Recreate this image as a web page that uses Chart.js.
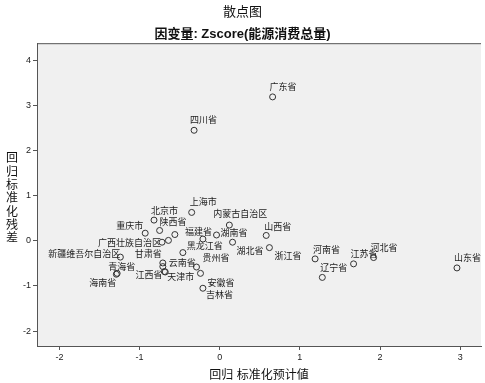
<!DOCTYPE html>
<html>
<head>
<meta charset="utf-8">
<script src="https://cdn.jsdelivr.net/npm/chart.js@4.4.0/dist/chart.umd.min.js"></script>
<style>
  body { margin: 0; background: #fff; }
  #wrap { width: 485px; height: 383px; }
</style>
</head>
<body>
<div id="wrap"><canvas id="scatterChart"></canvas></div>
<script>
const provinces = [
  "广东省", "四川省", "上海市", "北京市", "陕西省", "重庆市", "宁夏回族自治区", "西藏自治区",
  "广西壮族自治区", "福建省", "湖南省", "内蒙古自治区", "湖北省", "山西省", "浙江省", "河北省",
  "河南省", "辽宁省", "江苏省", "山东省", "黑龙江省", "新疆维吾尔自治区", "青海省", "海南省",
  "甘肃省", "云南省", "江西省", "天津市", "贵州省", "安徽省", "吉林省"
];
const predicted = [
  0.66, -0.32, -0.35, -0.82, -0.75, -0.93, -0.56, -0.64,
  -0.72, -0.21, -0.04, 0.12, 0.16, 0.58, 0.62, 1.92,
  1.19, 1.28, 1.67, 2.96, -0.46, -1.24, -1.28, -1.29,
  -0.71, -0.71, -0.69, -0.68, -0.29, -0.24, -0.21
];
const residuals = [
  3.19, 2.45, 0.63, 0.46, 0.23, 0.17, 0.14, 0.01,
  -0.03, 0.04, 0.13, 0.35, -0.03, 0.12, -0.15, -0.37,
  -0.40, -0.81, -0.51, -0.60, -0.26, -0.36, -0.72, -0.74,
  -0.49, -0.57, -0.68, -0.69, -0.58, -0.72, -1.05
];
const xTicks = [-2, -1, 0, 1, 2, 3];
const yTicks = [-2, -1, 0, 1, 2, 3, 4];

const chartTitle = "散点图";
const chartSubtitle = "因变量: Zscore(能源消费总量)";
const xTitle = "回归 标准化预计値";
const yTitle = "回归标准化残差";

// where each point label sits relative to its marker (null = label hidden by overlap)
const labelNudge = [
  [-3, -9], [-4, -10], [-2, -10], [-3, -9], [0, -8], [-29, -7], null, null,
  [-64, 1], [-18, -7], [4, -1], [-16, -11], [4, 9], [-2, -8], [5, 9], [-3, -9],
  [-2, -8], [-2, -9], [-3, -9], [-3, -9], [4, -6], [-72, -3], [-9, -6], [-27, 9],
  [-28, -8], [6, -3], [-29, 4], [2, 6], [6, -9], [7, 10], [3, 7]
];

const cjk = '"Liberation Sans", "Noto Sans CJK SC", sans-serif';

const plotBackground = {
  id: 'plotBackground',
  beforeDraw(chart) {
    const { ctx, chartArea: a } = chart;
    ctx.save();
    ctx.fillStyle = '#f0f0f0';
    ctx.fillRect(a.left, a.top, a.right - a.left, a.bottom - a.top);
    ctx.restore();
  },
  afterDraw(chart) {
    const { ctx, chartArea: a } = chart;
    ctx.save();
    ctx.strokeStyle = '#555';
    ctx.lineWidth = 1;
    ctx.beginPath();
    ctx.moveTo(a.left, a.top + 0.5);
    ctx.lineTo(a.right, a.top + 0.5);
    ctx.stroke();
    // vertical axis title, one character under the other
    ctx.fillStyle = '#111';
    ctx.font = '12px ' + cjk;
    ctx.textAlign = 'center';
    ctx.textBaseline = 'middle';
    [...yTitle].forEach((ch, i) => ctx.fillText(ch, 12, 159 + i * 13.3));
    ctx.restore();
  }
};

const pointLabels = {
  id: 'pointLabels',
  afterDatasetsDraw(chart) {
    const { ctx } = chart;
    const meta = chart.getDatasetMeta(0);
    ctx.save();
    ctx.font = '9px ' + cjk;
    ctx.fillStyle = '#222';
    ctx.textAlign = 'left';
    ctx.textBaseline = 'middle';
    meta.data.forEach((pt, i) => {
      const n = labelNudge[i];
      if (!n) return;
      ctx.fillText(provinces[i], pt.x + n[0], pt.y + n[1]);
    });
    ctx.restore();
  }
};

const ctx = document.getElementById('scatterChart').getContext('2d');
const scatterChart = new Chart(ctx, {
  type: 'scatter',
  data: {
    datasets: [{
      data: predicted.map((x, i) => ({ x: x, y: residuals[i] })),
      pointRadius: 3,
      pointHoverRadius: 3,
      borderWidth: 1,
      borderColor: '#333',
      backgroundColor: 'rgba(0,0,0,0)',
    }]
  },
  options: {
    responsive: true,
    maintainAspectRatio: false,
    animation: false,
    layout: { padding: { top: 0, right: 0, bottom: 0, left: 0 } },
    plugins: {
      legend: { display: false },
      tooltip: { enabled: false },
      title: {
        display: true,
        text: chartTitle,
        color: '#111',
        font: { family: cjk, size: 13, weight: 'normal' },
        padding: { top: 5, bottom: 2 },
      },
      subtitle: {
        display: true,
        text: chartSubtitle,
        color: '#111',
        font: { family: cjk, size: 13, weight: 'bold' },
        padding: { top: 4, bottom: 1 },
      },
    },
    scales: {
      x: {
        type: 'linear',
        min: -2.28,
        max: 3.26,
        afterBuildTicks: s => { s.ticks = xTicks.map(v => ({ value: v })); },
        afterFit: s => { s.height = 37; },
        grid: { drawOnChartArea: false, tickLength: 4, color: '#555' },
        border: { color: '#555' },
        ticks: { color: '#222', font: { family: cjk, size: 9 }, padding: 2, maxRotation: 0 },
        title: {
          display: true,
          text: xTitle,
          color: '#111',
          font: { family: cjk, size: 12 },
          padding: { top: 0, bottom: 0 },
        },
      },
      y: {
        type: 'linear',
        min: -2.33,
        max: 4.38,
        afterBuildTicks: s => { s.ticks = yTicks.map(v => ({ value: v })); },
        afterFit: s => { s.width = 37; },
        grid: { drawOnChartArea: false, tickLength: 4, color: '#555' },
        border: { color: '#555' },
        ticks: { color: '#222', font: { family: cjk, size: 9 }, padding: 2 },
      }
    }
  },
  plugins: [plotBackground, pointLabels]
});
</script>
</body>
</html>
